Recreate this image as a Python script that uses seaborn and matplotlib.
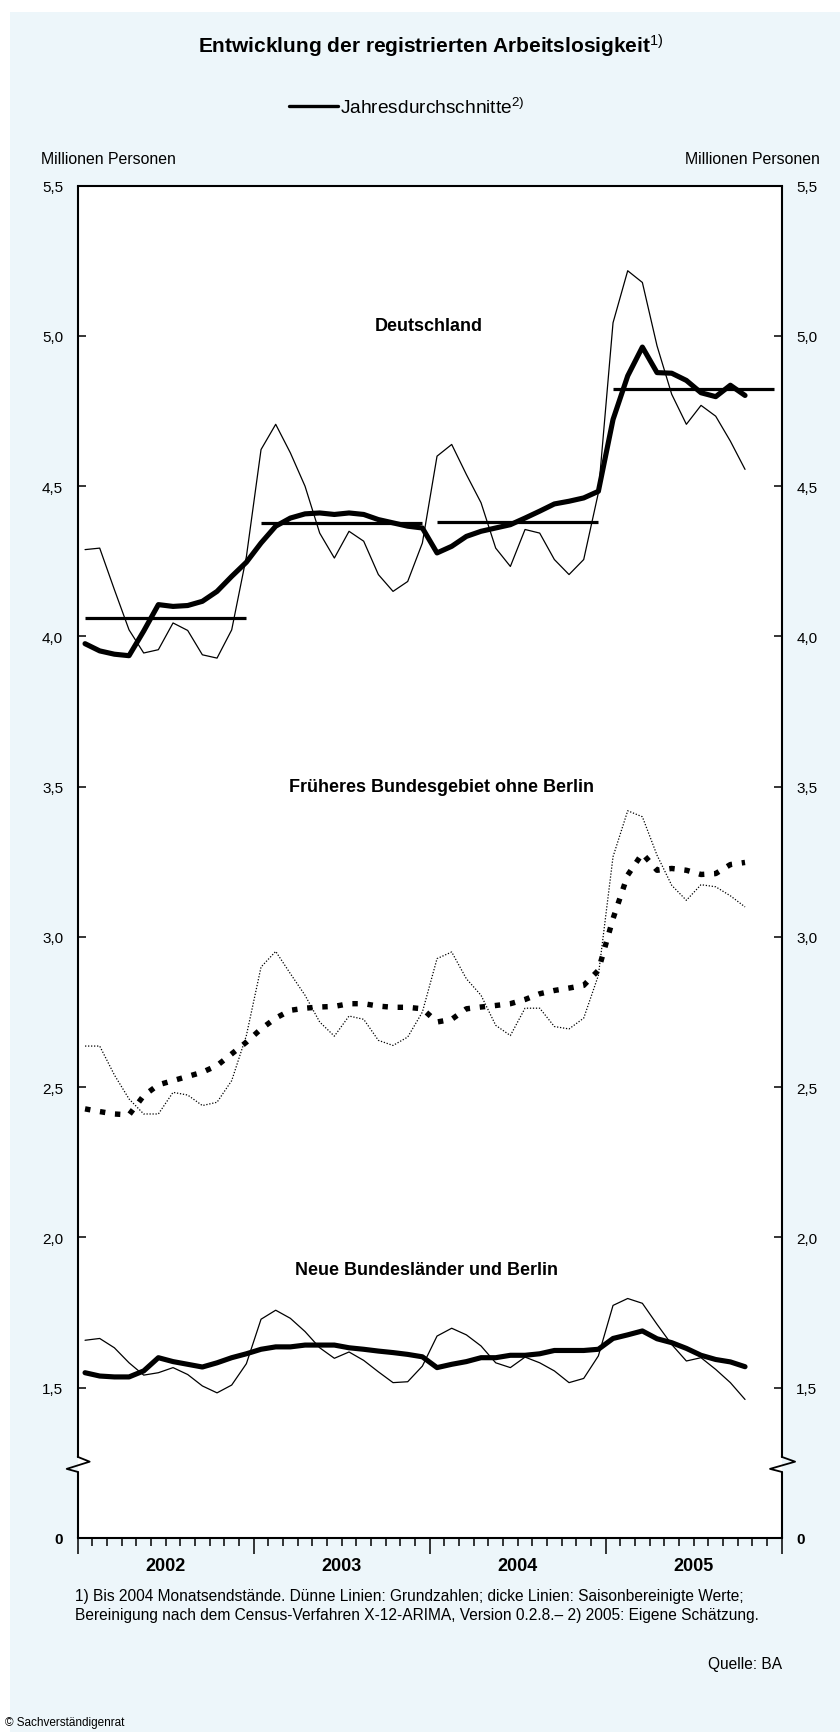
import numpy as np
import pandas as pd
import matplotlib
matplotlib.use("Agg")
import matplotlib.pyplot as plt
from matplotlib.lines import Line2D
from matplotlib.patches import Rectangle
import seaborn as sns

# Registrierte Arbeitslose, Millionen Personen, Jan 2002 bis Okt 2005
jahre = [2002, 2003, 2004, 2005]

deutschland_grund = [4.289, 4.294, 4.156, 4.022, 3.945, 3.956, 4.045, 4.020, 3.939, 3.928, 4.022, 4.265,
                     4.622, 4.706, 4.611, 4.500, 4.344, 4.261, 4.350, 4.317, 4.206, 4.150, 4.183, 4.311,
                     4.600, 4.639, 4.539, 4.445, 4.294, 4.233, 4.356, 4.344, 4.256, 4.206, 4.256, 4.478,
                     5.044, 5.217, 5.178, 4.967, 4.806, 4.706, 4.769, 4.733, 4.650, 4.556]
deutschland_saison = [3.976, 3.952, 3.941, 3.936, 4.018, 4.106, 4.100, 4.103, 4.117, 4.150, 4.200, 4.247,
                      4.311, 4.367, 4.394, 4.408, 4.411, 4.406, 4.411, 4.406, 4.389, 4.378, 4.367, 4.361,
                      4.278, 4.300, 4.333, 4.350, 4.361, 4.372, 4.394, 4.417, 4.441, 4.450, 4.461, 4.483,
                      4.722, 4.867, 4.963, 4.878, 4.876, 4.852, 4.811, 4.798, 4.836, 4.802]
west_grund = [2.637, 2.637, 2.541, 2.461, 2.411, 2.411, 2.483, 2.474, 2.439, 2.450, 2.522, 2.672,
              2.900, 2.952, 2.878, 2.806, 2.717, 2.670, 2.737, 2.726, 2.656, 2.639, 2.667, 2.750,
              2.928, 2.950, 2.861, 2.806, 2.706, 2.672, 2.763, 2.763, 2.702, 2.694, 2.730, 2.872,
              3.267, 3.420, 3.400, 3.272, 3.172, 3.122, 3.174, 3.167, 3.137, 3.100]
west_saison = [2.428, 2.419, 2.411, 2.408, 2.472, 2.508, 2.522, 2.536, 2.550, 2.572, 2.611, 2.650,
               2.694, 2.730, 2.756, 2.763, 2.767, 2.769, 2.778, 2.778, 2.770, 2.766, 2.766, 2.761,
               2.717, 2.726, 2.761, 2.767, 2.772, 2.778, 2.792, 2.811, 2.822, 2.830, 2.839, 2.889,
               3.061, 3.206, 3.278, 3.222, 3.228, 3.222, 3.208, 3.211, 3.241, 3.248]
ost_grund = [1.658, 1.664, 1.633, 1.583, 1.542, 1.550, 1.567, 1.544, 1.506, 1.483, 1.509, 1.580,
             1.728, 1.758, 1.731, 1.687, 1.633, 1.598, 1.619, 1.591, 1.553, 1.517, 1.520, 1.572,
             1.672, 1.698, 1.676, 1.639, 1.583, 1.567, 1.602, 1.583, 1.556, 1.517, 1.531, 1.606,
             1.774, 1.797, 1.781, 1.711, 1.644, 1.589, 1.600, 1.561, 1.517, 1.461]
ost_saison = [1.550, 1.539, 1.536, 1.536, 1.556, 1.600, 1.587, 1.578, 1.569, 1.583, 1.600, 1.613,
              1.628, 1.636, 1.636, 1.642, 1.642, 1.642, 1.633, 1.628, 1.622, 1.617, 1.611, 1.603,
              1.567, 1.578, 1.587, 1.600, 1.600, 1.608, 1.608, 1.613, 1.624, 1.624, 1.624, 1.628,
              1.664, 1.676, 1.689, 1.663, 1.650, 1.631, 1.608, 1.594, 1.586, 1.570]
jahresdurchschnitt = [4.061, 4.377, 4.381, 4.825]

y_ticks = [1.0, 1.5, 2.0, 2.5, 3.0, 3.5, 4.0, 4.5, 5.0, 5.5]
y_labels = ["0", "1,5", "2,0", "2,5", "3,0", "3,5", "4,0", "4,5", "5,0", "5,5"]
gebiete = ["Deutschland", "Früheres Bundesgebiet ohne Berlin", "Neue Bundesländer und Berlin"]

sns.set_style("white")
plt.rcParams["font.family"] = ["Liberation Sans", "DejaVu Sans"]
plt.rcParams["mathtext.fontset"] = "custom"
plt.rcParams["mathtext.rm"] = "Liberation Sans"
plt.rcParams["mathtext.it"] = "Liberation Sans:italic"
plt.rcParams["mathtext.bf"] = "Liberation Sans:bold"
for key in ["text.color", "axes.labelcolor", "xtick.color", "ytick.color", "axes.edgecolor"]:
    plt.rcParams[key] = "black"

W, H = 840, 1733
BLUE = "#EDF6FA"

monate = pd.period_range("2002-01", periods=len(deutschland_grund), freq="M")
df = pd.DataFrame({
    "zeit": monate.year + (monate.month - 0.5) / 12,
    "de_grund": deutschland_grund, "de_saison": deutschland_saison,
    "west_grund": west_grund, "west_saison": west_saison,
    "ost_grund": ost_grund, "ost_saison": ost_saison,
})

fig = plt.figure(figsize=(W / 100, H / 100), dpi=100, facecolor="white")
fig.patches.append(Rectangle((10 / W, 0), 1, 1 - 13 / H, transform=fig.transFigure,
                             facecolor=BLUE, edgecolor="none", zorder=-5))

ax = fig.add_axes([77.7 / W, 1 - 1539 / H, 704 / W, (1539 - 186.7) / H])
ax.set_facecolor("white")

# thin lines: raw values, thick: seasonally adjusted
sns.lineplot(data=df, x="zeit", y="de_grund", color="black", lw=0.9, ax=ax)
sns.lineplot(data=df, x="zeit", y="de_saison", color="black", lw=3.7, ax=ax)
sns.lineplot(data=df, x="zeit", y="west_grund", color="black", lw=0.9,
             linestyle=(0, (1, 1.4)), ax=ax)
sns.lineplot(data=df, x="zeit", y="west_saison", color="black", lw=3.9,
             linestyle=(0, (1, 1.8)), dash_capstyle="butt", ax=ax)
sns.lineplot(data=df, x="zeit", y="ost_grund", color="black", lw=0.9, ax=ax)
sns.lineplot(data=df, x="zeit", y="ost_saison", color="black", lw=3.7, ax=ax)

for jahr, wert in zip(jahre, jahresdurchschnitt):
    ax.hlines(wert, jahr + 0.5 / 12, jahr + 11.5 / 12, color="black", lw=2.3)

ax.set_xlim(2002, 2006)
ax.set_ylim(1.0, 5.5)
ax.set_xlabel("")
ax.set_ylabel("")

ax.set_yticks(y_ticks)
ax.set_yticklabels(y_labels)
ax.tick_params(axis="y", left=True, right=True, labelleft=True, labelright=True,
               direction="in", length=5.8, width=1.1, pad=10.5, labelsize=11, colors="black")
for t in ax.yaxis.get_major_ticks():
    if t.label1.get_text() == "0":
        t.label1.set_fontweight("bold")
        t.label2.set_fontweight("bold")
        t.tick1line.set_visible(False)
        t.tick2line.set_visible(False)

ax.set_xticks(range(jahre[0], jahre[-1] + 2))
ax.set_xticklabels([])
ax.set_xticks(np.arange(jahre[0], jahre[-1] + 1 + 1e-6, 1 / 12), minor=True)
ax.tick_params(axis="x", which="major", direction="out", length=11.5, width=1.1, bottom=True)
ax.tick_params(axis="x", which="minor", direction="out", length=5.8, width=1.1, bottom=True)
for jahr in jahre:
    ax.annotate(str(jahr), xy=(jahr + 0.5, 0), xycoords=("data", "axes fraction"),
                xytext=(0, -27.5 * 0.72), textcoords="offset points",
                ha="center", va="center", fontsize=13, fontweight="bold")

# frame with axis break
for s in ["top", "bottom"]:
    ax.spines[s].set_linewidth(1.5)
    ax.spines[s].set_color("black")
ax.spines["left"].set_visible(False)
ax.spines["right"].set_visible(False)
tr = ax.get_yaxis_transform()
for xs, d1, d2 in [(0, 0.017, -0.0156), (1, 0.019, -0.0166)]:
    ax.plot([xs, xs], [1.0, 1.22], transform=tr, color="black", lw=1.5, clip_on=False, zorder=5)
    ax.plot([xs, xs], [1.27, 5.5], transform=tr, color="black", lw=1.5, clip_on=False, zorder=5)
    ax.plot([xs, xs + d1, xs + d2, xs], [1.27, 1.254, 1.23, 1.22], transform=tr,
            color="black", lw=1.3, clip_on=False, zorder=5)

# region labels
for name, xf, yv in zip(gebiete, [0.498, 0.517, 0.496], [5.036, 3.502, 1.895]):
    ax.text(xf, yv, name, transform=tr, ha="center", va="center", fontsize=13, fontweight="bold")

# title, legend, units
fig.text(431 / W, 1 - 46 / H, r"Entwicklung der registrierten Arbeitslosigkeit$^{\mathrm{1)}}$",
         ha="center", va="center", fontsize=15, fontweight="bold")
handle = Line2D([], [], color="black", lw=2.4)
fig.legend(handles=[handle], labels=[r"Jahresdurchschnitte$^{\mathrm{2)}}$"], loc="center",
           bbox_to_anchor=(407 / W, 1 - 108 / H), frameon=False, fontsize=13.8,
           handlelength=2.55, handletextpad=0.12)
fig.text(41 / W, 1 - 160 / H, "Millionen Personen", ha="left", va="center", fontsize=11.4)
fig.text(820 / W, 1 - 160 / H, "Millionen Personen", ha="right", va="center", fontsize=11.4)

# footnotes
fig.text(75 / W, 1 - 1597 / H,
         "1) Bis 2004 Monatsendstände. Dünne Linien: Grundzahlen; dicke Linien: Saisonbereinigte Werte;",
         ha="left", va="center", fontsize=11.2)
fig.text(75 / W, 1 - 1616 / H,
         "Bereinigung nach dem Census-Verfahren X-12-ARIMA, Version 0.2.8.– 2) 2005: Eigene Schätzung.",
         ha="left", va="center", fontsize=11.2)
fig.text(782 / W, 1 - 1665 / H, "Quelle: BA", ha="right", va="center", fontsize=11.2)
fig.text(5 / W, 1 - 1723 / H, "© Sachverständigenrat", ha="left", va="center", fontsize=8.5)

fig.savefig("out.png", dpi=100, facecolor=fig.get_facecolor())
